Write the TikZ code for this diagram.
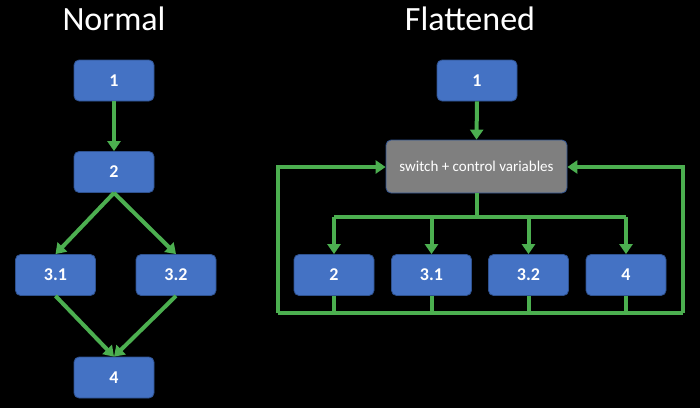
\documentclass[tikz,border=0pt]{standalone}
\usepackage{fontspec}
\setmainfont{Carlito}
\usetikzlibrary{arrows.meta}
\definecolor{boxblue}{HTML}{4472C4}
\definecolor{boxedge}{HTML}{2F528F}
\definecolor{boxgray}{HTML}{7F7F7F}
\definecolor{flowgreen}{HTML}{4CAF50}
\tikzset{
  blk/.style={draw=boxedge, line width=0.8pt, fill=boxblue, rounded corners=5pt,
    minimum width=80pt, minimum height=41pt, inner sep=0pt, text=white,
    font=\fontsize{18}{20}\selectfont\bfseries},
  sw/.style={blk, fill=boxgray, draw=boxedge, minimum width=181pt, minimum height=53pt,
    font=\fontsize{15}{18}\selectfont},
  ttl/.style={text=white, font=\fontsize{34}{40}\selectfont, inner sep=0pt},
  flow/.style={draw=flowgreen, line width=4pt, -{Triangle[width=13pt,length=10pt]}},
  bus/.style={draw=flowgreen, line width=4pt}
}
\begin{document}
\begin{tikzpicture}[x=1pt,y=-1pt]
\fill[black] (0,0) rectangle (700,408);
\useasboundingbox (0,0) rectangle (700,408);
% Normal
\node[ttl] (tn) at (114,19) {Normal};
\node[blk] (n1) at (114,80.5) {1};
\node[blk] (n2) at (114,172) {2};
\node[blk] (n31) at (55.5,275) {3.1};
\node[blk] (n32) at (176,275) {3.2};
\node[blk] (n4) at (114,377.5) {4};
\draw[flow] (n1.south) -- (n2.north);
\draw[flow] (n2.south) -- (n31.north);
\draw[flow] (n2.south) -- (n32.north);
\draw[flow] (n31.south) -- (n4.north);
\draw[flow] (n32.south) -- (n4.north);
% Flattened
\node[ttl] (tf) at (470,19) {Flattened};
\node[blk] (f1) at (477,80.5) {1};
\node[sw] (s) at (476.5,166.5) {switch + control variables};
\node[blk] (f2) at (334,275) {2};
\node[blk] (f31) at (431.5,275) {3.1};
\node[blk] (f32) at (528.5,275) {3.2};
\node[blk] (f4) at (626,275) {4};
\draw[flow] (f1.south) -- (s.north);
\coordinate (dj) at (476.5,217);
\draw[bus] (s.south) -- (dj);
\draw[bus] (f2.north |- dj) -- (f4.north |- dj);
\foreach \b in {f2,f31,f32,f4}{
  \draw[flow] (\b.north |- dj) -- (\b.north);
  \draw[bus] (\b.south) -- ++(0,19);
}
\coordinate (bl) at (278,313);
\coordinate (br) at (683,313);
\draw[bus] (bl) -- (br);
\draw[flow] (bl) -- (278,167) -- (s.west |- 0,167);
\draw[flow] (br) -- (683,167) -- (s.east |- 0,167);
\end{tikzpicture}
\end{document}
